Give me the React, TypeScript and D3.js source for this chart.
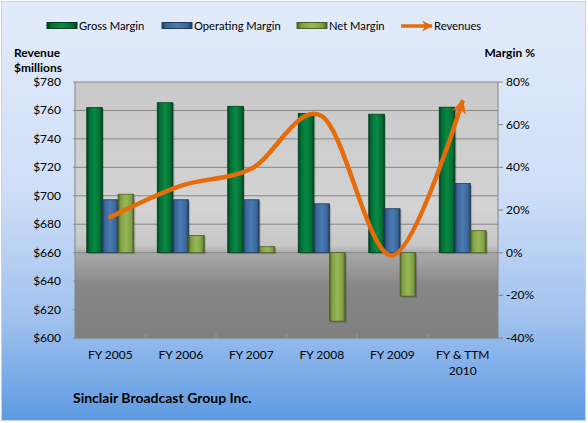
import React, { useEffect } from 'react';
import * as d3 from 'd3';

// ── Data ──────────────────────────────────────────────────────────────────────
const CATEGORIES = ['FY 2005', 'FY 2006', 'FY 2007', 'FY 2008', 'FY 2009', 'FY & TTM 2010'];
const GROSS_MARGIN = [68, 70.3, 68.6, 65.3, 64.9, 68.2];
const OPERATING_MARGIN = [24.8, 24.8, 24.8, 22.9, 20.6, 32.4];
const NET_MARGIN = [27.4, 8.1, 2.8, -32.1, -20.4, 10.3];
const REVENUES = [685, 707, 719, 756, 658, 767];
const REVENUE_TICKS = [600, 620, 640, 660, 680, 700, 720, 740, 760, 780];
const MARGIN_TICKS = [-40, -20, 0, 20, 40, 60, 80];

const SERIES = [
  { key: 'gross', name: 'Gross Margin', values: GROSS_MARGIN, fill: '#006d34', edge: '#003d1c', light: '#0a8a44' },
  { key: 'op', name: 'Operating Margin', values: OPERATING_MARGIN, fill: '#3a6698', edge: '#203b5c', light: '#4a7bb4' },
  { key: 'net', name: 'Net Margin', values: NET_MARGIN, fill: '#7f9e44', edge: '#4a5f24', light: '#97b856' },
];

const W = 588;
const H = 423;
const FONT = 'Lato, "Open Sans", sans-serif';
const ORANGE = '#e46c0a';

export default function App() {
  useEffect(() => {
    document.body.style.margin = '0';
  }, []);

  const plot = { left: 75, right: 498, top: 82, bottom: 338 };
  const x = d3.scaleBand<string>().domain(CATEGORIES).range([plot.left, plot.right]);
  const xs = d3.scaleBand<string>().domain(SERIES.map(s => s.key)).range([0, x.bandwidth()]).paddingOuter(0.75);
  const yL = d3.scaleLinear().domain([600, 780]).range([plot.bottom, plot.top]);
  const yR = d3.scaleLinear().domain([-40, 80]).range([plot.bottom, plot.top]);

  const px = (i: number) => x(CATEGORIES[i])! + x.bandwidth() / 2;
  const line = d3.line<number>()
    .x((_, i) => px(i))
    .y(d => yL(d))
    .curve(d3.curveCardinal.tension(0));

  const legendItems = [
    { x: 47, label: 'Gross Margin', s: SERIES[0] },
    { x: 162, label: 'Operating Margin', s: SERIES[1] },
    { x: 297, label: 'Net Margin', s: SERIES[2] },
  ];

  return (
    <svg width={W} height={H} style={{ display: 'block', fontFamily: FONT }}>
      <defs>
        <linearGradient id="bg" x1="0" y1="0" x2="0" y2="1">
          <stop offset="0%" stopColor="#e2ebfa" />
          <stop offset="45%" stopColor="#cfdff7" />
          <stop offset="75%" stopColor="#a2c2ee" />
          <stop offset="100%" stopColor="#5d9be2" />
        </linearGradient>
        <linearGradient id="plotbg" x1="0" y1="0" x2="0" y2="1">
          <stop offset="0%" stopColor="#c9c9c9" />
          <stop offset="50%" stopColor="#d3d3d3" />
          <stop offset="64%" stopColor="#c6c6c6" />
          <stop offset="67%" stopColor="#a8a8a8" />
          <stop offset="80%" stopColor="#878787" />
          <stop offset="100%" stopColor="#7f7f7f" />
        </linearGradient>
        {SERIES.map(s => (
          <linearGradient key={s.key} id={`bar-${s.key}`} x1="0" y1="0" x2="1" y2="0">
            <stop offset="0%" stopColor={s.edge} />
            <stop offset="15%" stopColor={s.fill} />
            <stop offset="50%" stopColor={s.light} />
            <stop offset="85%" stopColor={s.fill} />
            <stop offset="100%" stopColor={s.edge} />
          </linearGradient>
        ))}
        <marker id="arrow" viewBox="0 0 10 10" refX="9" refY="5" markerWidth="3.2" markerHeight="3.2" orient="auto" markerUnits="strokeWidth">
          <path d="M0,0 L10,5 L0,10 L3,5 Z" fill={ORANGE} />
        </marker>
      </defs>

      {/* Chart background */}
      <rect x={1.5} y={1.5} width={W - 4} height={H - 4} fill="url(#bg)" stroke="#c8d4e4" />

      {/* Legend */}
      {legendItems.map(it => (
        <g key={it.label}>
          <rect x={it.x} y={22.5} width={30} height={6} fill={`url(#bar-${it.s.key})`} stroke={it.s.edge} strokeWidth={1} />
          <text x={it.x + 32} y={30} fontSize={11.2} fill="#000">{it.label}</text>
        </g>
      ))}
      <line x1={401} y1={26} x2={432} y2={26} stroke={ORANGE} strokeWidth={3.5} markerEnd="url(#arrow)" />
      <text x={434} y={30} fontSize={11.2} fill="#000">Revenues</text>

      {/* Axis titles */}
      <text x={14} y={57} fontSize={12} fontWeight="bold">Revenue</text>
      <text x={14} y={72} fontSize={12} fontWeight="bold">$millions</text>
      <text x={535} y={57} fontSize={12} fontWeight="bold" textAnchor="end">Margin %</text>

      {/* Plot area */}
      <rect x={plot.left} y={plot.top} width={plot.right - plot.left} height={plot.bottom - plot.top} fill="url(#plotbg)" />
      {REVENUE_TICKS.map(t => (
        <line key={t} x1={plot.left} x2={plot.right} y1={yL(t)} y2={yL(t)} stroke="#868686" strokeWidth={1} />
      ))}

      {/* Bars */}
      {SERIES.map(s => (
        <g key={s.key}>
          {s.values.map((v, i) => {
            const bx = x(CATEGORIES[i])! + xs(s.key)!;
            const y0 = yR(0);
            const yv = yR(v);
            return (
              <g key={i}>
                <rect x={bx + 1.5} y={Math.min(y0, yv) + 1.5} width={xs.bandwidth()} height={Math.abs(yv - y0)} fill="#000" opacity={0.18} />
                <rect x={bx} y={Math.min(y0, yv)} width={xs.bandwidth()} height={Math.abs(yv - y0)} fill={`url(#bar-${s.key})`} stroke={s.edge} strokeWidth={0.8} />
              </g>
            );
          })}
        </g>
      ))}

      {/* Axes */}
      <line x1={plot.left} x2={plot.left} y1={plot.top} y2={plot.bottom} stroke="#868686" />
      <line x1={plot.right} x2={plot.right} y1={plot.top} y2={plot.bottom} stroke="#868686" />
      <line x1={plot.left} x2={plot.right} y1={plot.bottom} y2={plot.bottom} stroke="#868686" />
      {REVENUE_TICKS.map(t => (
        <g key={t}>
          <line x1={plot.left - 2} x2={plot.left} y1={yL(t)} y2={yL(t)} stroke="#868686" />
          <text x={61} y={yL(t) + 4} fontSize={12} textAnchor="end" fill="#000">${t}</text>
        </g>
      ))}
      {MARGIN_TICKS.map(t => (
        <g key={t}>
          <line x1={plot.right} x2={plot.right + 5} y1={yR(t)} y2={yR(t)} stroke="#868686" />
          <text x={506} y={yR(t) + 4} fontSize={12} fill="#000">{t}%</text>
        </g>
      ))}
      {CATEGORIES.map((c, i) => (
        <line key={c} x1={x(c)!} x2={x(c)!} y1={plot.bottom} y2={plot.bottom - 4} stroke="#9a9a9a" opacity={i === 0 ? 0 : 1} />
      ))}
      {CATEGORIES.map(c => {
        const cx = x(c)! + x.bandwidth() / 2;
        const parts = c === 'FY & TTM 2010' ? ['FY & TTM', '2010'] : [c];
        return (
          <text key={c} x={cx} y={359} fontSize={12} textAnchor="middle" fill="#000">
            {parts.map((p, j) => (
              <tspan key={p} x={cx} dy={j === 0 ? 0 : 16}>{p}</tspan>
            ))}
          </text>
        );
      })}

      {/* Revenue line */}
      <path d={line(REVENUES) ?? ''} fill="none" stroke={ORANGE} strokeWidth={4.5} strokeLinecap="butt" markerEnd="url(#arrow)" />
      <circle cx={px(0)} cy={yL(REVENUES[0])} r={2.25} fill={ORANGE} />

      {/* Title */}
      <text x={73} y={403} fontSize={14} fontWeight="bold" fill="#000">Sinclair Broadcast Group Inc.</text>
    </svg>
  );
}
